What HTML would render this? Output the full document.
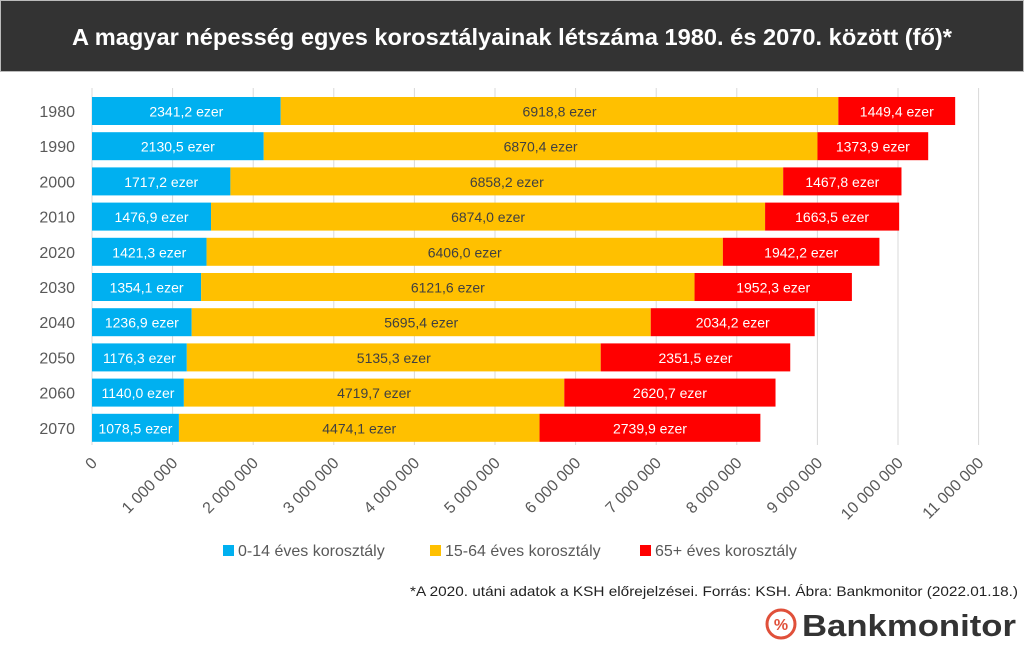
<!DOCTYPE html>
<html><head><meta charset="utf-8"><style>
body{margin:0;width:1024px;height:647px;background:#fff;overflow:hidden;font-family:"Liberation Sans",sans-serif}
</style></head><body>
<svg id="s" width="1024" height="647" xmlns="http://www.w3.org/2000/svg" font-family="Liberation Sans, sans-serif">
<rect x="0" y="0" width="1024" height="72" fill="#333333"/>
<rect x="0.5" y="0.5" width="1023" height="71" fill="none" stroke="#bbb"/>
<text x="512" y="45" fill="#fff" font-size="23" font-weight="bold" text-anchor="middle" textLength="880" lengthAdjust="spacingAndGlyphs">A magyar népesség egyes korosztályainak létszáma 1980. és 2070. között (fő)*</text>
<g id="g"></g>
<rect x="223" y="545" width="11" height="11" fill="#00B0F0"/>
<text x="238" y="556" font-size="16" fill="#595959">0-14 éves korosztály</text>
<rect x="430" y="545" width="11" height="11" fill="#FFC000"/>
<text x="445" y="556" font-size="16" fill="#595959">15-64 éves korosztály</text>
<rect x="640" y="545" width="11" height="11" fill="#FF0000"/>
<text x="655" y="556" font-size="16" fill="#595959">65+ éves korosztály</text>
<text x="1018" y="596" font-size="14" fill="#222" text-anchor="end" textLength="608" lengthAdjust="spacingAndGlyphs">*A 2020. utáni adatok a KSH előrejelzései. Forrás: KSH. Ábra: Bankmonitor (2022.01.18.)</text>
<circle cx="781" cy="624" r="14" fill="none" stroke="#e0503a" stroke-width="3"/>
<text x="781" y="630" font-size="16" font-weight="bold" fill="#e0503a" text-anchor="middle">%</text>
<text x="1016" y="636" font-size="31" font-weight="bold" fill="#333" text-anchor="end" textLength="214" lengthAdjust="spacingAndGlyphs">Bankmonitor</text>
</svg>
<script>
var d=[[1980,2341.2,6918.8,1449.4],[1990,2130.5,6870.4,1373.9],[2000,1717.2,6858.2,1467.8],[2010,1476.9,6874.0,1663.5],[2020,1421.3,6406.0,1942.2],[2030,1354.1,6121.6,1952.3],[2040,1236.9,5695.4,2034.2],[2050,1176.3,5135.3,2351.5],[2060,1140.0,4719.7,2620.7],[2070,1078.5,4474.1,2739.9]];
var x0=92,k=0.0806,h='';
for(var i=0;i<=11;i++){var x=x0+i*80.6;h+='<line x1="'+x+'" y1="88" x2="'+x+'" y2="445" stroke="#d9d9d9"/>';
var lab=i==0?'0':(i+' 000 000');h+='<text transform="translate('+(x+6)+',464) rotate(-45)" text-anchor="end" font-size="16" fill="#595959">'+lab+'</text>';}
var cols=['#00B0F0','#FFC000','#FF0000'],tc=['#fff','#404040','#fff'];
d.forEach(function(r,j){var y=97+j*35.2,x=x0;h+='<text x="75" y="'+(y+20)+'" font-size="16" fill="#595959" text-anchor="end">'+r[0]+'</text>';
for(var c=0;c<3;c++){var w=r[c+1]*k;h+='<rect x="'+x+'" y="'+y+'" width="'+w+'" height="28" fill="'+cols[c]+'"/>';
h+='<text x="'+(x+w/2)+'" y="'+(y+19.5)+'" font-size="14" fill="'+tc[c]+'" text-anchor="middle">'+r[c+1].toFixed(1).replace('.',',')+' ezer</text>';x+=w;}});
document.getElementById('g').innerHTML=h;
</script>
</body></html>
